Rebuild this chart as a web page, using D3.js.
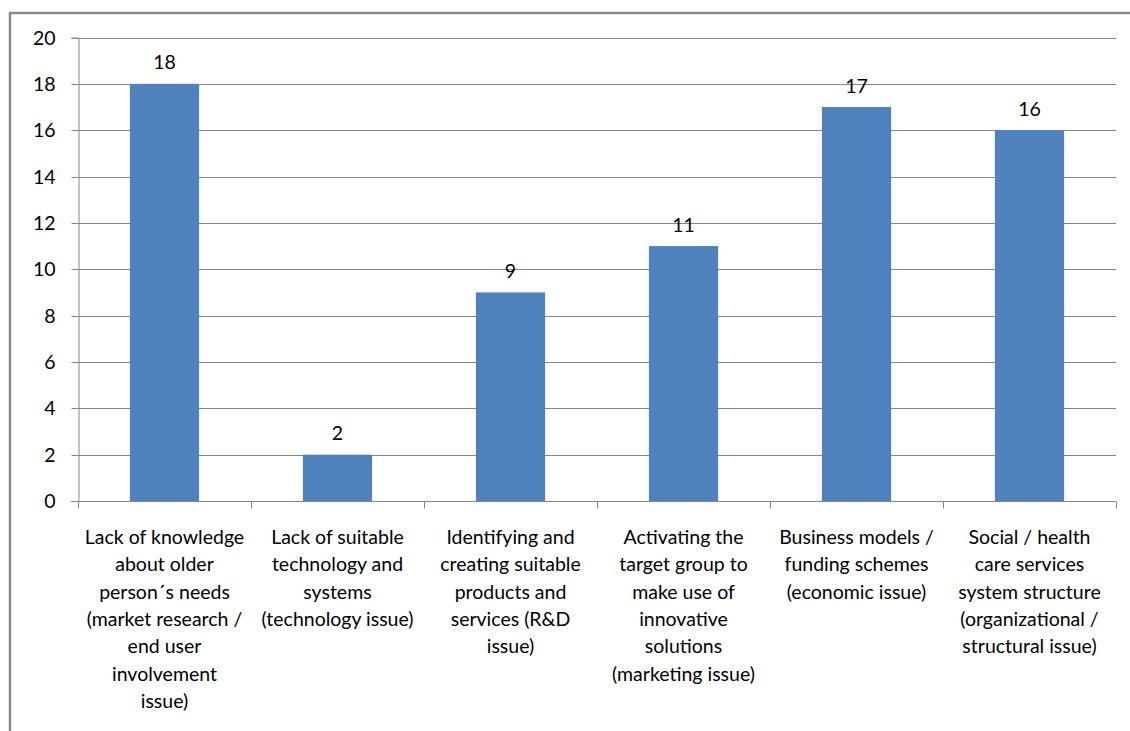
<!DOCTYPE html>
<html>
<head>
<meta charset="utf-8">
<script src="https://cdn.jsdelivr.net/npm/d3@7/dist/d3.min.js"></script>
<style>
  html, body { margin: 0; padding: 0; background: #ffffff; }
  svg { display: block; }
  text { font-family: Lato, "Open Sans", sans-serif; fill: #000; }
</style>
</head>
<body>
<svg id="chart" width="1130" height="731"></svg>
<script>
// Category labels, one entry per wrapped line
const categories = [
  ["Lack of knowledge", "about older", "person\u00b4s needs", "(market research /", "end user", "involvement", "issue)"],
  ["Lack of suitable", "technology and", "systems", "(technology issue)"],
  ["Identifying and", "creating suitable", "products and", "services (R&D", "issue)"],
  ["Activating the", "target group to", "make use of", "innovative", "solutions", "(marketing issue)"],
  ["Business models /", "funding schemes", "(economic issue)"],
  ["Social / health", "care services", "system structure", "(organizational /", "structural issue)"]
];
const values = [18, 2, 9, 11, 17, 16];
const yTicks = [0, 2, 4, 6, 8, 10, 12, 14, 16, 18, 20];

const svg = d3.select("#chart");
const W = 1130, H = 731;
const plot = { left: 78, right: 1116, top: 37.5, bottom: 501 };
const FS = "19.5px";

// Outer chart frame
svg.append("rect")
  .attr("x", 10).attr("y", 13)
  .attr("width", W + 20).attr("height", H + 20)
  .attr("fill", "#ffffff")
  .attr("stroke", "#8c8c8c")
  .attr("stroke-width", 2.5);

const idx = categories.map((d, i) => i);
const xCat = d3.scaleBand().domain(idx).range([plot.left, plot.right]).padding(0);
const xBar = d3.scaleBand().domain(idx).range([plot.left, plot.right])
  .paddingInner(0.6).paddingOuter(0.3);
const y = d3.scaleLinear().domain([0, 20]).range([plot.bottom, plot.top]);

// Horizontal gridlines
svg.append("g")
  .selectAll("line")
  .data(yTicks.filter(t => t > 0))
  .join("line")
  .attr("x1", plot.left).attr("x2", plot.right)
  .attr("y1", d => Math.round(y(d)) + 0.5).attr("y2", d => Math.round(y(d)) + 0.5)
  .attr("stroke", "#868686").attr("stroke-width", 1);

// Y axis
const yAxis = d3.axisLeft(y).tickValues(yTicks).tickSize(7).tickPadding(16);
const gy = svg.append("g").attr("transform", `translate(${plot.left + 0.5},0)`).call(yAxis);
gy.select(".domain").attr("stroke", "#868686");
gy.selectAll(".tick line").attr("stroke", "#868686");
gy.selectAll(".tick text")
  .style("font-family", "Lato, 'Open Sans', sans-serif")
  .style("font-size", FS).attr("fill", "#000");
gy.selectAll(".tick").attr("transform", d => `translate(0,${Math.round(y(d)) + 0.5})`);

// Bars
svg.append("g")
  .selectAll("rect")
  .data(values)
  .join("rect")
  .attr("x", (d, i) => xBar(i))
  .attr("width", xBar.bandwidth())
  .attr("y", d => y(d))
  .attr("height", d => y(0) - y(d))
  .attr("fill", "#4f81bd");

// Value labels above bars
svg.append("g")
  .selectAll("text")
  .data(values)
  .join("text")
  .attr("x", (d, i) => xBar(i) + xBar.bandwidth() / 2)
  .attr("y", d => y(d) - 14.5)
  .attr("text-anchor", "middle")
  .style("font-size", FS)
  .text(d => d);

// X axis baseline with category boundary ticks
const baseY = Math.round(y(0)) + 0.5;
svg.append("line")
  .attr("x1", plot.left).attr("x2", plot.right)
  .attr("y1", baseY).attr("y2", baseY)
  .attr("stroke", "#868686");
const bounds = idx.map(i => xCat(i)).concat([plot.right]);
svg.append("g")
  .selectAll("line")
  .data(bounds)
  .join("line")
  .attr("x1", d => Math.round(d) + 0.5).attr("x2", d => Math.round(d) + 0.5)
  .attr("y1", baseY).attr("y2", baseY + 7)
  .attr("stroke", "#868686");

// Category labels
const lab = svg.append("g")
  .selectAll("text")
  .data(categories)
  .join("text")
  .attr("text-anchor", "middle")
  .style("font-size", FS)
  .attr("transform", (d, i) => `translate(${xCat(i) + xCat.bandwidth() / 2},544)`);
lab.selectAll("tspan")
  .data(d => d)
  .join("tspan")
  .attr("x", 0)
  .attr("y", (d, j) => j * 27.3)
  .text(d => d);
</script>
</body>
</html>
